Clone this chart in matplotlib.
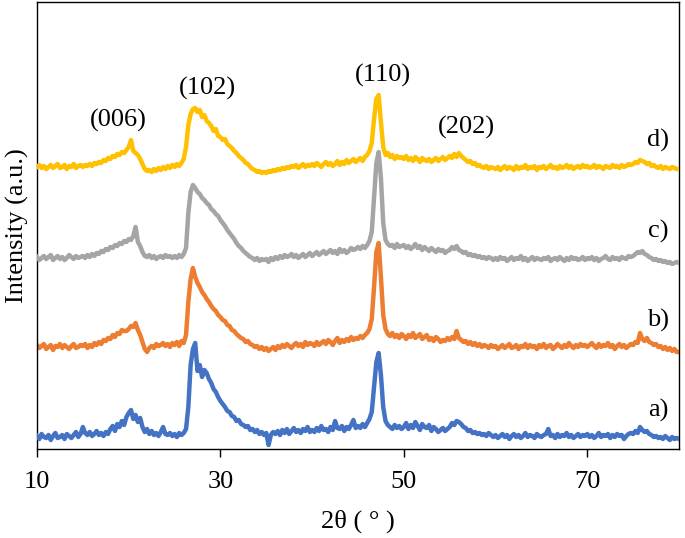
import numpy as np
import matplotlib
matplotlib.use("Agg")
import matplotlib.pyplot as plt

plt.rcParams["font.family"] = ["Liberation Serif", "DejaVu Serif"]
plt.rcParams["font.size"] = 19

# 2-theta grid: 10..80 deg, 0.25 deg step (281 points)
START, STEP = 10.0, 0.25

# relative intensities (a.u.), one row per 5 degrees
int_a = [
    1, -2, 3, 0, -1, 2, -3, 1, 4, -1, 0, 2, -2, 3, 1, -1, 2, 5, 0, 3,
    10, 4, 2, 5, 1, 3, 6, 2, 4, 1, 5, 3, 8, 11, 6, 13, 10, 16, 12, 20,
    24, 27, 18, 22, 15, 19, 10, 5, 8, 3, 6, 2, 4, 1, 5, 10, 3, 2, 4, 1,
    3, 0, 4, 2, 4, 8, 30, 72, 88, 94, 66, 72, 60, 67, 64, 58, 54, 48, 45, 40,
    36, 33, 30, 26, 25, 21, 20, 16, 17, 13, 12, 10, 11, 7, 8, 5, 7, 3, 5, 2,
    4, -8, 2, 5, 3, 6, 2, 7, 4, 8, 3, 6, 9, 5, 7, 4, 8, 6, 10, 5,
    7, 5, 9, 6, 11, 7, 8, 5, 10, 7, 16, 9, 8, 11, 6, 10, 8, 12, 17, 9,
    11, 9, 13, 10, 14, 18, 25, 50, 75, 84, 62, 30, 16, 12, 10, 8, 12, 9, 11, 8,
    10, 14, 8, 12, 9, 15, 11, 7, 13, 10, 9, 12, 6, 10, 8, 5, 7, 9, 6, 8,
    10, 14, 12, 16, 15, 13, 10, 9, 6, 7, 4, 5, 3, 4, 2, 3, 1, 4, 2, 0,
    2, -1, 1, 3, 0, 2, -2, 1, 3, 0, 2, -1, 1, 4, 0, 2, 1, -1, 3, 1,
    0, 2, 3, 8, 1, 2, -1, 3, 0, 2, 1, 4, 0, 2, -1, 1, 3, 0, 2, 1,
    3, 0, 2, -1, 1, 4, 0, 2, 1, 3, -1, 2, 0, 3, 1, 2, -2, 1, 3, 4,
    3, 6, 4, 10, 7, 5, 6, 3, 2, 0, 1, -1, 0, -2, 1, -1, -3, 0, -2, -1,
    -2,
]
int_b = [
    2, -1, 1, 3, -2, 0, 2, -3, 1, 0, 3, -1, 2, 0, -2, 1, 3, -1, 0, 2,
    1, 3, -1, 2, 0, 4, 2, 5, 3, 7, 6, 9, 8, 12, 10, 14, 13, 17, 16, 16,
    18, 21, 20, 24, 17, 12, 5, -2, -5, -1, 1, -1, 3, 1, 2, 4, 1, 3, 0, 4,
    2, 5, 1, 6, 4, 12, 45, 68, 79, 70, 64, 60, 55, 52, 48, 45, 41, 38, 36, 32,
    30, 27, 26, 22, 21, 17, 16, 13, 11, 9, 8, 5, 6, 3, 2, 0, 1, -2, 0, -3,
    -1, -4, -2, 0, -3, 1, -1, 2, 0, 3, 1, -1, 2, 4, 1, 3, 0, 5, 2, 4,
    3, 1, 5, 2, 4, 6, 3, 7, 5, 2, 6, 9, 4, 7, 5, 8, 6, 10, 7, 9,
    8, 11, 9, 12, 14, 18, 28, 60, 95, 104, 70, 32, 18, 13, 11, 14, 10, 12, 9, 13,
    11, 8, 12, 10, 14, 9, 11, 13, 8, 10, 12, 7, 9, 6, 10, 8, 5, 7, 6, 9,
    7, 10, 8, 16, 9, 7, 5, 6, 3, 5, 2, 4, 1, 3, 0, 2, 1, -1, 2, 0,
    1, -2, 0, 2, -1, 1, 3, -1, 0, 2, -2, 1, 0, 3, -1, 2, 0, 1, -2, 2,
    0, 3, -1, 1, 2, -2, 0, 3, 1, -1, 2, 0, 4, 1, -1, 2, 0, 3, 1, 2,
    0, 2, 4, 1, -1, 3, 0, 2, 1, 4, 0, 2, -2, 1, 3, 0, 2, -1, 1, 3,
    2, 5, 4, 14, 8, 6, 9, 5, 4, 2, 3, 0, 1, -2, 0, -3, -1, -4, -2, -5,
    -5,
]
int_c = [
    1, -2, 0, 2, -1, 1, 3, -2, 0, 2, -1, 1, -2, 0, 3, 1, -1, 2, 0, 1,
    2, 0, 3, 1, 4, 2, 5, 4, 7, 6, 9, 8, 11, 10, 13, 12, 15, 14, 17, 16,
    19, 18, 22, 31, 16, 12, 6, 2, 1, 3, 0, 2, -1, 1, 2, 0, 3, 1, 2, 0,
    2, 0, 3, 1, 4, 10, 45, 66, 73, 70, 66, 64, 60, 58, 55, 53, 49, 47, 44, 42,
    38, 35, 32, 28, 25, 22, 19, 15, 12, 10, 7, 5, 3, 1, 0, -2, 0, -3, -1, -2,
    -1, -4, 0, -2, 1, -1, 2, 0, 3, 1, 2, 4, 1, 3, 0, 2, 4, 1, 3, 5,
    2, 4, 6, 3, 5, 7, 4, 6, 8, 5, 7, 4, 9, 6, 8, 5, 7, 10, 8, 9,
    11, 9, 12, 10, 13, 17, 26, 60, 95, 106, 80, 35, 18, 14, 12, 13, 10, 14, 11, 12,
    13, 10, 12, 9, 11, 14, 10, 12, 8, 11, 9, 7, 10, 8, 6, 9, 7, 8, 5, 7,
    8, 11, 9, 12, 8, 7, 5, 6, 3, 4, 2, 3, 1, 2, 0, 1, -1, 1, 0, -2,
    0, -2, 1, -1, 0, -3, -1, 1, -2, 0, -1, 2, -2, 0, -3, -1, 1, -2, 0, -1,
    -2, 0, -1, 1, -3, -1, 0, -2, 1, -1, -3, 0, -2, 1, -1, 0, -2, -1, 1, -2,
    0, -1, 1, -2, 0, -3, -1, 0, 2, -1, -2, 1, -1, 0, -2, 1, 0, -1, 2, 1,
    2, 4, 6, 5, 7, 4, 3, 1, 0, -2, -1, -3, -2, -4, -3, -5, -4, -6, -5, -4,
    -5,
]
int_d = [
    0, 2, -1, 1, -2, 0, 2, -1, 1, 3, -1, 0, 2, -2, 1, 0, 3, -1, 1, 2,
    0, 2, 1, 3, 1, 4, 3, 5, 4, 7, 6, 9, 8, 11, 10, 13, 12, 15, 14, 17,
    20, 27, 16, 14, 12, 8, 3, -2, -4, -3, -5, -2, -4, -1, -3, 0, -2, 1, -1, 2,
    0, 3, 1, 4, 8, 20, 42, 53, 58, 59, 55, 57, 50, 52, 46, 44, 41, 36, 38, 31,
    30, 27, 28, 23, 21, 19, 16, 14, 11, 9, 7, 4, 3, 0, -2, -3, -5, -4, -6, -5,
    -6, -4, -5, -3, -4, -2, -3, -1, -2, 0, -1, 1, 0, 2, -1, 1, 3, 0, 2, 1,
    3, 1, 4, 2, 0, 3, 5, 2, 4, 1, 3, 6, 2, 5, 3, 7, 4, 6, 8, 5,
    7, 9, 6, 10, 12, 16, 24, 48, 68, 72, 45, 20, 12, 14, 10, 12, 8, 11, 9, 10,
    8, 11, 7, 9, 6, 10, 8, 5, 9, 7, 6, 8, 5, 7, 9, 6, 8, 10, 7, 9,
    11, 9, 13, 10, 14, 11, 9, 7, 5, 6, 3, 4, 1, 2, 0, -1, 1, -2, 0, -1,
    -2, 0, -3, -1, 1, -2, 0, -1, -3, 1, -2, 0, -1, 2, -2, 0, -1, 1, -3, 0,
    -1, 1, -2, 0, 2, -1, 0, -2, 1, -1, 0, 2, -1, 1, -2, 0, 1, -1, 2, 0,
    1, -1, 0, 2, -1, 1, 0, -2, 1, 0, -1, 2, 0, 1, -1, 2, 0, 1, 3, 2,
    3, 5, 4, 7, 6, 5, 3, 4, 1, 2, 0, -1, 1, -2, 0, -1, -2, 0, -1, -2,
    -2,
]

samples = ["a)", "b)", "c)", "d)"]
offsets = [12, 102, 191, 282]
colors = ["#4472C4", "#ED7D31", "#A5A5A5", "#FFC000"]
zorders = [3, 2, 4, 5]

peak_labels = ["(006)", "(102)", "(110)", "(202)"]
peak_x = [18.9, 28.6, 47.7, 56.8]
peak_y = [329, 361, 374, 322]

W, H = 685, 538
fig = plt.figure(figsize=(W / 100, H / 100), dpi=100)
ax = fig.add_axes([37 / W, (H - 449) / H, (679 - 37) / W, (449 - 2) / H])

series = [int_a, int_b, int_c, int_d]
for vals, off, col, z in zip(series, offsets, colors, zorders):
    y = np.array(vals, dtype=float) + off
    x = START + STEP * np.arange(len(vals))
    ax.plot(x, y, color=col, lw=3.2, zorder=z)

for lab, off in zip(samples, offsets):
    ax.text(77.7, off + 27, lab, ha="center", va="center")

for lab, px, py in zip(peak_labels, peak_x, peak_y):
    ax.text(px, py, lab, ha="center", va="center")

ax.set_xlim(10, 80)
ax.set_ylim(0, 447)
ax.set_xticks([10, 30, 50, 70])
ax.set_yticks([])
ax.tick_params(axis="x", direction="out", length=6, width=1, pad=10, labelsize=19)
for s in ax.spines.values():
    s.set_linewidth(1)
ax.set_xlabel("2θ ( ° )", labelpad=12)
ax.set_ylabel("Intensity (a.u.)", labelpad=6)

fig.savefig("out.png", dpi=100)
